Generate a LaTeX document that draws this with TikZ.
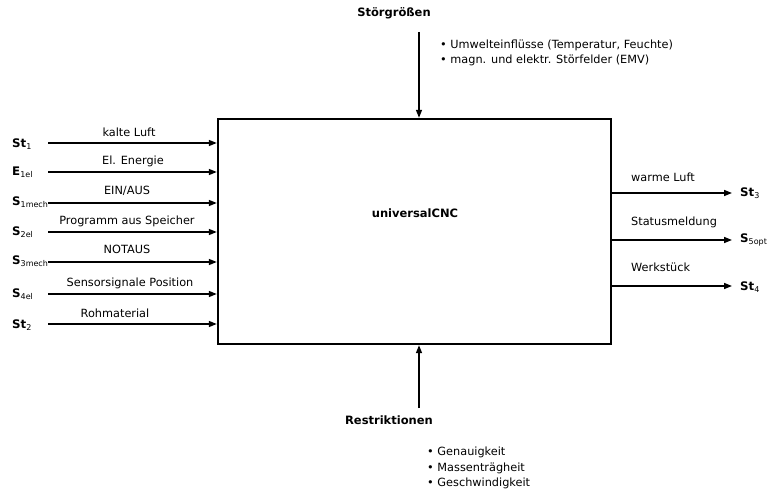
\documentclass[tikz,border=0pt]{standalone}
\usepackage{fontspec}
\setmainfont{DejaVu Sans}
\usetikzlibrary{arrows.meta,positioning}

\newcommand{\sigsym}[2]{\textbf{#1}\raisebox{-0.35ex}{\fontsize{8}{9}\selectfont #2}}

\tikzset{
  flow/.style={line width=1.5pt, -{Triangle[length=8pt,width=6pt]}},
  lbl/.style={font=\fontsize{11.3}{13}\selectfont, inner sep=0pt},
  sym/.style={font=\fontsize{11.8}{13}\selectfont, inner sep=0pt, anchor=west},
  head/.style={font=\fontsize{11.5}{13}\selectfont\bfseries, inner sep=0pt},
  bullets/.style={font=\fontsize{11.3}{15.5}\selectfont, inner sep=0pt, align=left, anchor=west},
}

\begin{document}
\begin{tikzpicture}[x=1pt, y=-1pt]
  \useasboundingbox (0,0) rectangle (774,494);
  % system box
  \node[draw, line width=2.4pt, minimum width=393pt, minimum height=225pt] (cnc) at (414.5,231.5) {};
  \node[head] (title) at (415,213) {universalCNC};
  % inputs (left)
  \node[sym] (st1) at (12,144) {\sigsym{St}{1}};
  \node[sym] (e1el) at (12,172) {\sigsym{E}{1el}};
  \node[sym] (s1mech) at (12,202) {\sigsym{S}{1mech}};
  \node[sym] (s2el) at (12,232) {\sigsym{S}{2el}};
  \node[sym] (s3mech) at (12,261) {\sigsym{S}{3mech}};
  \node[sym] (s4el) at (12,294) {\sigsym{S}{4el}};
  \node[sym] (st2) at (12,325) {\sigsym{St}{2}};
  \coordinate (in1) at (48,143);
  \coordinate (in2) at (48,172);
  \coordinate (in3) at (48,203);
  \coordinate (in4) at (48,232);
  \coordinate (in5) at (48,262);
  \coordinate (in6) at (48,294);
  \coordinate (in7) at (48,324);
  \draw[flow] (in1) -- (in1 -| cnc.west);
  \draw[flow] (in2) -- (in2 -| cnc.west);
  \draw[flow] (in3) -- (in3 -| cnc.west);
  \draw[flow] (in4) -- (in4 -| cnc.west);
  \draw[flow] (in5) -- (in5 -| cnc.west);
  \draw[flow] (in6) -- (in6 -| cnc.west);
  \draw[flow] (in7) -- (in7 -| cnc.west);
  \node[lbl] (l1) at (129,132) {kalte Luft};
  \node[lbl] (l2) at (133,161) {El. Energie};
  \node[lbl] (l3) at (127,191) {EIN/AUS};
  \node[lbl] (l4) at (127,221) {Programm aus Speicher};
  \node[lbl] (l5) at (127,249) {NOTAUS};
  \node[lbl] (l6) at (130,283) {Sensorsignale Position};
  \node[lbl] (l7) at (115,313) {Rohmaterial};
  % outputs (right)
  \node[sym] (st3) at (740,193) {\sigsym{St}{3}};
  \node[sym] (s5opt) at (740,240) {\sigsym{S}{5opt}};
  \node[sym] (st4) at (740,287) {\sigsym{St}{4}};
  \coordinate (out1) at (732,193);
  \coordinate (out2) at (732,240);
  \coordinate (out3) at (732,286);
  \draw[flow] (out1 -| cnc.east) -- (out1);
  \draw[flow] (out2 -| cnc.east) -- (out2);
  \draw[flow] (out3 -| cnc.east) -- (out3);
  \node[lbl, anchor=west] (r1) at (631,177) {warme Luft};
  \node[lbl, anchor=west] (r2) at (631,222) {Statusmeldung};
  \node[lbl, anchor=west] (r3) at (631,267) {Werkstück};
  % disturbances (top)
  \node[head] (stoer) at (394,13) {Störgrößen};
  \coordinate (top) at (419,32);
  \draw[flow] (top) -- (top |- cnc.north);
  \node[bullets] (stoerlist) at (440,53) {\textbullet\ Umwelteinflüsse (Temperatur, Feuchte)\\
    \textbullet\ magn. und elektr. Störfelder (EMV)};
  % restrictions (bottom)
  \coordinate (bot) at (419,408);
  \draw[flow] (bot) -- (bot |- cnc.south);
  \node[head] (restr) at (389,420) {Restriktionen};
  \node[bullets] (restrlist) at (427,468) {\textbullet\ Genauigkeit\\
    \textbullet\ Massenträgheit\\
    \textbullet\ Geschwindigkeit};
\end{tikzpicture}
\end{document}
